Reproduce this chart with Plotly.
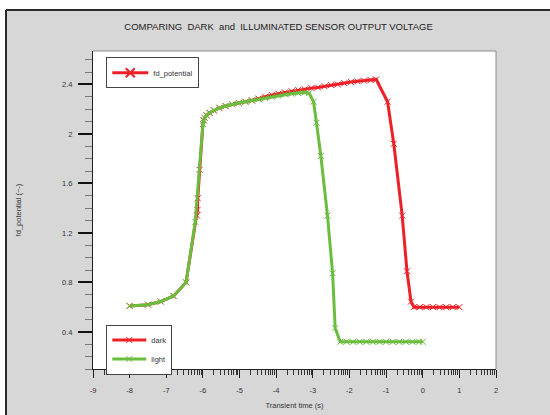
import plotly.graph_objects as go
import math

# ---------------- data ----------------
dark_x = [-8.0, -7.5, -7.15, -6.8, -6.46, -6.16, -6.15, -6.14, -6.09,
          -6.0, -5.98, -5.95, -5.9, -5.82, -5.7, -5.55, -5.38, -5.2, -5.02,
          -4.84, -4.66, -4.48, -4.3, -4.12, -3.94, -3.76, -3.58, -3.4, -3.22,
          -3.04, -2.86, -2.68, -2.5, -2.32, -2.14, -1.96, -1.78, -1.6, -1.42,
          -1.27, -0.96, -0.79, -0.56, -0.43, -0.32, -0.24, -0.08, 0.1, 0.28,
          0.46, 0.64, 0.82, 1.0]
dark_y = [0.61, 0.62, 0.645, 0.69, 0.80, 1.34, 1.385, 1.48, 1.71,
          2.08, 2.11, 2.13, 2.15, 2.17, 2.19, 2.21, 2.225, 2.24, 2.25,
          2.26, 2.27, 2.285, 2.30, 2.315, 2.325, 2.335, 2.345, 2.355, 2.36,
          2.37, 2.375, 2.385, 2.395, 2.40, 2.41, 2.42, 2.425, 2.43, 2.435,
          2.44, 2.26, 1.92, 1.34, 0.89, 0.645, 0.60, 0.60, 0.60, 0.60,
          0.60, 0.60, 0.60, 0.60]

light_x = [-8.0, -7.5, -7.15, -6.8, -6.46, -6.21,
           -6.0, -5.98, -5.95, -5.9, -5.82, -5.7, -5.55, -5.38, -5.2, -5.02,
           -4.84, -4.66, -4.48, -4.3, -4.12, -3.94, -3.76, -3.58, -3.4, -3.22,
           -3.1, -2.98, -2.90, -2.78, -2.60, -2.46, -2.39, -2.25, -2.08, -1.9,
           -1.72, -1.54, -1.36, -1.18, -1.0, -0.82, -0.64, -0.46, -0.28, -0.1,
           0.0]
light_y = [0.61, 0.62, 0.645, 0.69, 0.80, 1.29,
           2.08, 2.11, 2.13, 2.15, 2.17, 2.19, 2.21, 2.225, 2.24, 2.25,
           2.26, 2.27, 2.28, 2.29, 2.30, 2.31, 2.32, 2.325, 2.33, 2.335,
           2.33, 2.26, 2.09, 1.82, 1.34, 0.874, 0.43, 0.32, 0.32, 0.32,
           0.32, 0.32, 0.32, 0.32, 0.32, 0.32, 0.32, 0.32, 0.32, 0.32,
           0.32]

x_ticks = [-9, -8, -7, -6, -5, -4, -3, -2, -1, 0, 1, 2]
x_tick_text = ["-9", "-8", "-7", "-6", "-5", "-4", "-3", "-2", "-1", "0", "1", "2"]
y_ticks = [0.4, 0.8, 1.2, 1.6, 2.0, 2.4]
y_tick_text = ["0.4", "0.8", "1.2", "1.6", "2", "2.4"]

RED = "#ee2027"
GREEN = "#6abd3f"
FONT = "Liberation Sans, Arial, sans-serif"

# log-style minor ticks between integer x positions
x_minor = [n + math.log10(k) for n in range(-9, 2) for k in range(2, 10)]

# ---------------- layout geometry (pixels) ----------------
W, H = 550, 415
L, R, T, B = 93, 496, 51, 369
PW, PH = R - L, B - T


def px_x(p):
    return (p - L) / PW


def px_y(p):
    return (B - p) / PH


fig = go.Figure()

fig.add_trace(go.Scatter(
    x=dark_x, y=dark_y, mode="lines+markers", name="dark", legend="legend2",
    line=dict(color=RED, width=3),
    marker=dict(symbol="x-thin", size=6, line=dict(color=RED, width=1)),
))
fig.add_trace(go.Scatter(
    x=light_x, y=light_y, mode="lines+markers", name="light", legend="legend2",
    line=dict(color=GREEN, width=3),
    marker=dict(symbol="x-thin", size=6, line=dict(color=GREEN, width=1)),
))
fig.add_trace(go.Scatter(
    x=[None], y=[None], mode="lines+markers", name="fd_potential", legend="legend",
    line=dict(color=RED, width=3),
    marker=dict(symbol="x-thin", size=9, line=dict(color=RED, width=2)),
))

shapes = [
    # white strips outside the gray frame
    dict(type="rect", xref="paper", yref="paper", layer="below",
         x0=px_x(-20), x1=px_x(600), y0=px_y(10), y1=px_y(-20),
         fillcolor="white", line=dict(width=0)),
    dict(type="rect", xref="paper", yref="paper", layer="below",
         x0=px_x(-20), x1=px_x(6), y0=px_y(440), y1=px_y(10),
         fillcolor="white", line=dict(width=0)),
    # frame border
    dict(type="line", xref="paper", yref="paper", layer="below",
         x0=px_x(6), x1=px_x(600), y0=px_y(10), y1=px_y(10),
         line=dict(color="#2b2b2b", width=2)),
    dict(type="line", xref="paper", yref="paper", layer="below",
         x0=px_x(6), x1=px_x(6), y0=px_y(10), y1=px_y(440),
         line=dict(color="#2b2b2b", width=2)),
    # plot area top & right border
    dict(type="line", xref="paper", yref="paper", layer="above",
         x0=0, x1=1, y0=1, y1=1, line=dict(color="#8a8a8a", width=1)),
    dict(type="line", xref="paper", yref="paper", layer="above",
         x0=1, x1=1, y0=0, y1=1, line=dict(color="#8a8a8a", width=1)),
]

fig.update_layout(
    width=W, height=H,
    margin=dict(l=L, r=W - R, t=T, b=H - B, pad=0, autoexpand=False),
    paper_bgcolor="#d7d7d7",
    plot_bgcolor="white",
    font=dict(family=FONT, size=7.5, color="#333"),
    title=dict(text="COMPARING  DARK  and  ILLUMINATED SENSOR OUTPUT VOLTAGE",
               font=dict(family=FONT, size=9.5, color="#222"),
               x=278.5 / W, xref="container", xanchor="center",
               y=1 - 27 / H, yref="container", yanchor="middle"),
    shapes=shapes,
    showlegend=True,
    legend=dict(x=px_x(106.3), y=px_y(57.3), xanchor="left", yanchor="top",
                bgcolor="white", bordercolor="#444", borderwidth=1,
                font=dict(family=FONT, size=7.5, color="#333"),
                itemwidth=36),
    legend2=dict(x=px_x(106.3), y=px_y(324.5), xanchor="left", yanchor="top",
                 bgcolor="white", bordercolor="#444", borderwidth=1,
                 font=dict(family=FONT, size=7.5, color="#333"),
                 itemwidth=34, tracegroupgap=0),
)

fig.update_xaxes(
    range=[-9, 2], tickmode="array", tickvals=x_ticks, ticktext=x_tick_text,
    automargin=False,
    ticks="outside", ticklen=8, tickwidth=1, tickcolor="#222",
    showline=True, linecolor="#222", linewidth=1,
    showgrid=False, zeroline=False,
    tickfont=dict(family=FONT, size=7.5, color="#333"),
    ticklabelstandoff=6,
    minor=dict(tickmode="array", tickvals=x_minor, ticks="outside",
               ticklen=5, tickwidth=1, tickcolor="#333", showgrid=False),
    title=dict(text="Transient time (s)", standoff=8,
               font=dict(family=FONT, size=7.5, color="#333")),
)
fig.update_yaxes(
    range=[0.1, 2.67], tickmode="array", tickvals=y_ticks, ticktext=y_tick_text,
    automargin=False,
    ticks="outside", ticklen=14, tickwidth=1.5, tickcolor="#111",
    showline=True, linecolor="#222", linewidth=1,
    showgrid=False, zeroline=False,
    tickfont=dict(family=FONT, size=7.5, color="#333"),
    ticklabelstandoff=4,
    minor=dict(tick0=0, dtick=0.1, ticks="outside", ticklen=7, tickwidth=1,
               tickcolor="#777", showgrid=False),
    title=dict(text="fd_potential (~-)", standoff=39,
               font=dict(family=FONT, size=7.5, color="#333")),
)

fig.write_html(
    "out.html",
    config={"displayModeBar": False},
    post_script="document.body.style.margin='0';document.body.style.overflow='hidden';",
)
